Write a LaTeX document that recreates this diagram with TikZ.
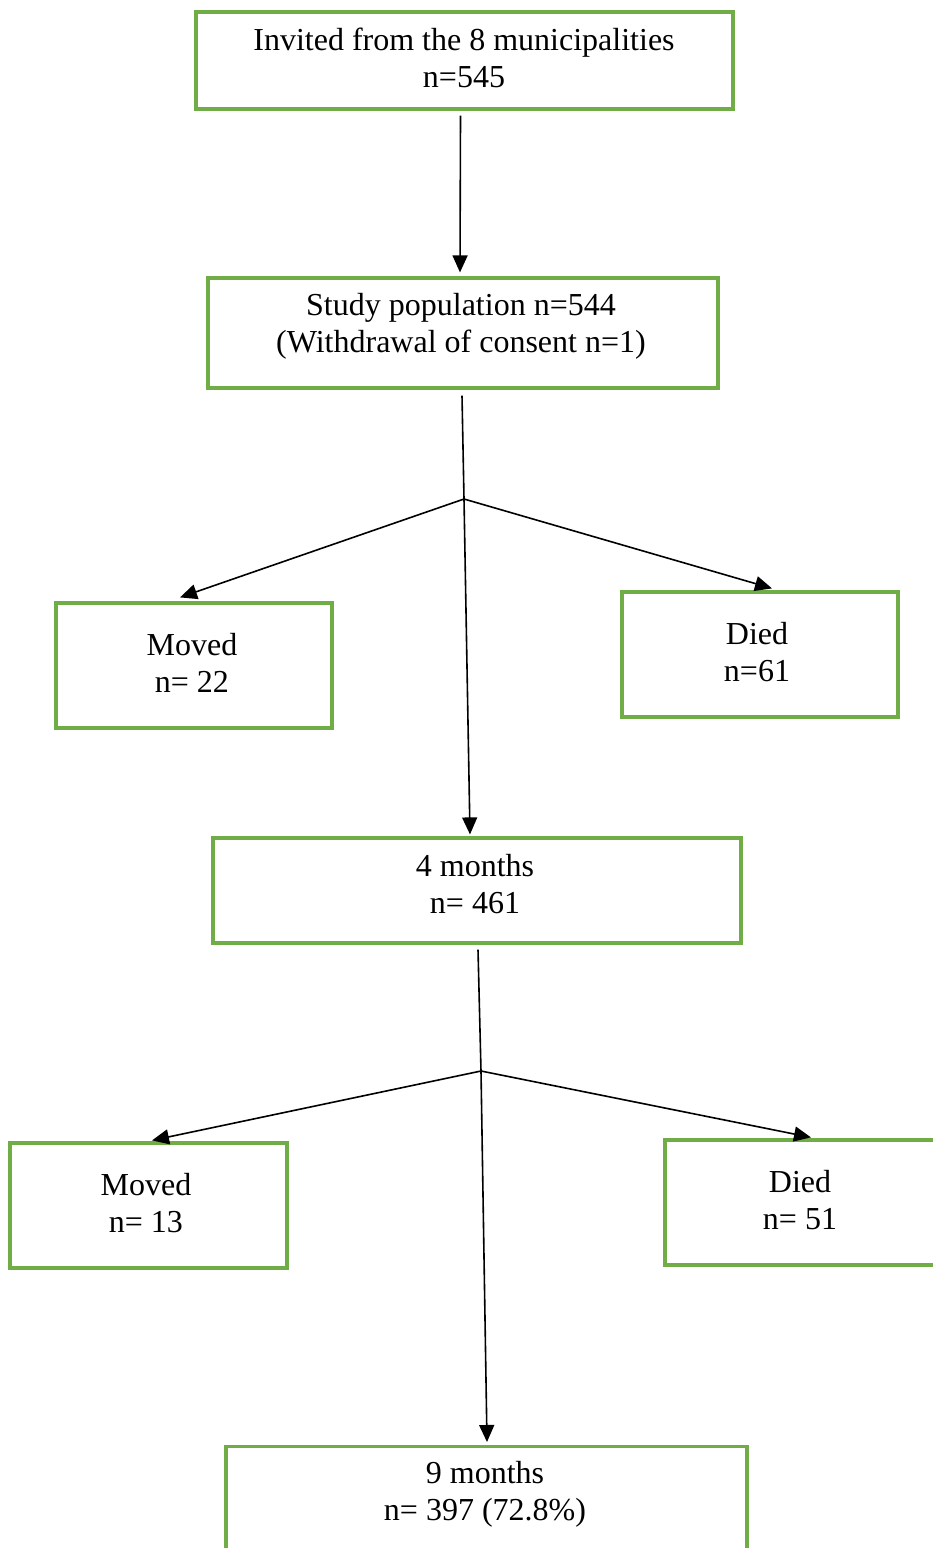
\documentclass[tikz,border=0pt]{standalone}
\usepackage{fontspec}
\setmainfont{Liberation Serif}
\usetikzlibrary{arrows.meta,calc}
\definecolor{boxgreen}{RGB}{112,173,71}
\begin{document}
\begin{tikzpicture}[x=1pt,y=-1pt,
  box/.style={draw=boxgreen,line width=3.2pt,rectangle,inner sep=0pt},
  txt/.style={align=center,font=\fontsize{32}{37}\selectfont,inner sep=0pt,anchor=base},
  arr/.style={line width=1.6pt,-{Triangle[length=17pt,width=15pt]}},
  ln/.style={line width=1.6pt}]
\useasboundingbox (0,0) rectangle (933,1548);
\clip (0,0) rectangle (933,1548);
% boxes
\node[box,minimum width=537pt,minimum height=97pt] (inv) at (464.5,60.5) {};
\node[box,minimum width=510pt,minimum height=110pt] (stu) at (463,333) {};
\node[box,minimum width=276pt,minimum height=125pt] (mov1) at (194,665.5) {};
\node[box,minimum width=276pt,minimum height=125pt] (die1) at (760,654.5) {};
\node[box,minimum width=528pt,minimum height=105pt] (m4) at (477,890.5) {};
\node[box,minimum width=277pt,minimum height=125pt] (mov2) at (148.5,1205.5) {};
\node[box,minimum width=276pt,minimum height=125pt] (die2) at (803,1202.5) {};
\node[box,minimum width=521pt,minimum height=200pt,anchor=north] (m9) at (486.5,1445) {};
% texts (anchor = baseline of the last line)
\node[txt] (tinv) at (464,87) {Invited from the 8 municipalities\\n=545};
\node[txt] (tstu) at (461,352) {Study population n=544\\(Withdrawal of consent n=1)};
\node[txt] (tmov1) at (192,692) {Moved\\n= 22};
\node[txt] (tdie1) at (757,681) {Died\\n=61};
\node[txt] (tm4) at (475,913) {4 months\\n= 461};
\node[txt] (tmov2) at (146,1232) {Moved\\n= 13};
\node[txt] (tdie2) at (800,1229) {Died\\n= 51};
\node[txt] (tm9) at (485,1520) {9 months\\n= 397 (72.8\%)};
% junctions
\coordinate (j1) at (464,499);
\coordinate (j2) at (481,1071);
% connectors
\draw[arr] ($(inv.south)+(-4,5)$) -- ($(stu.north)+(-3,-4)$);
\draw[ln] ($(stu.south)+(-1,6)$) -- (j1);
\draw[arr] (j1) -- ($(m4.north)+(-7,-2)$);
\draw[arr] (j1) -- ($(mov1.north)+(-14,-4)$);
\draw[arr] (j1) -- ($(die1.north)+(12,-2)$);
\draw[ln] ($(m4.south)+(1,5)$) -- (j2);
\draw[arr] (j2) -- ($(m9.north)+(0.5,-3)$);
\draw[arr] (j2) -- ($(mov2.north)+(3.5,-1)$);
\draw[arr] (j2) -- ($(die2.north)+(8,-1)$);
\end{tikzpicture}
\end{document}
